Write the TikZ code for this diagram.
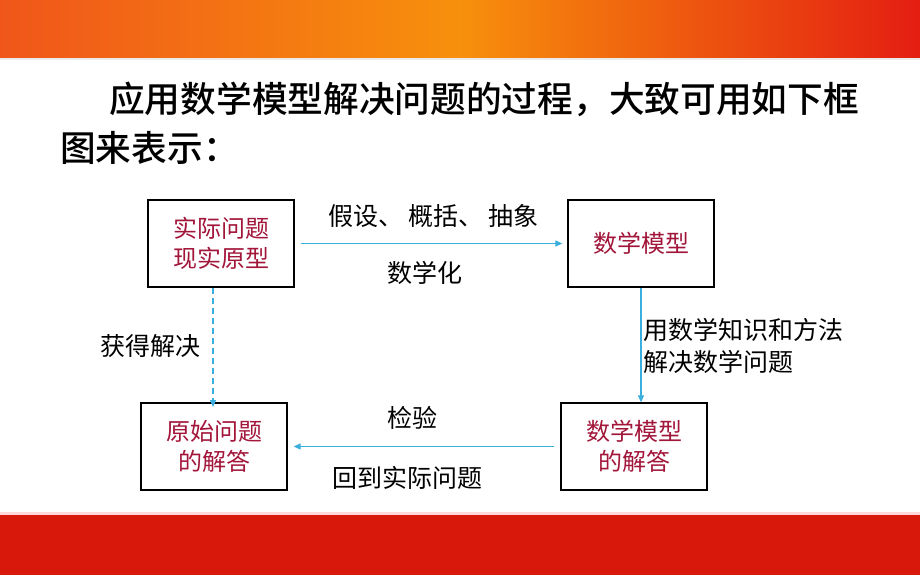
\documentclass[tikz,border=0pt]{standalone}
\usepackage{fontspec}
\newfontfamily\cjk{Noto Sans CJK SC}
\newfontfamily\cjkm{Noto Sans CJK SC Medium}
\usetikzlibrary{arrows.meta}
\definecolor{bandred}{HTML}{D9180C}
\definecolor{bandorange}{HTML}{F7900C}
\definecolor{bandleft}{HTML}{F0561A}
\definecolor{bandright}{HTML}{E41E12}
\definecolor{boxtext}{HTML}{A2163A}
\definecolor{arrowblue}{HTML}{3AAEDC}
\tikzset{
  box/.style={draw=black, line width=1.3pt, minimum width=146pt, minimum height=87pt, inner sep=0pt, align=center, font=\cjk\fontsize{24}{29.5}\selectfont, text=boxtext},
  lbl/.style={font=\cjk\fontsize{25}{32}\selectfont, text=black, inner sep=0pt, align=left},
  flow/.style={draw=arrowblue, line width=1.2pt, -{Triangle[length=7pt,width=6pt]}},
  title/.style={font=\cjkm\fontsize{35.7}{49}\selectfont, inner sep=0pt, anchor=west}
}
\begin{document}
\begin{tikzpicture}[x=1pt,y=-1pt]
\useasboundingbox (0,0) rectangle (920,575);
\fill[white] (0,0) rectangle (920,575);
% top band
\shade[left color=bandleft, right color=bandright, middle color=bandorange] (0,0) rectangle (920,58);
\fill[black!8] (0,58) rectangle (920,60);
% bottom band
\fill[red!15] (0,512) rectangle (920,515);
\fill[bandred] (0,515) rectangle (920,575);
% title
\node[title] (t1) at (109,99) {应用数学模型解决问题的过程，大致可用如下框};
\node[title] (t2) at (60,148) {图来表示：};
% boxes
\node[box] (A) at (221,243.5) {实际问题\\现实原型};
\node[box] (B) at (641,243.5) {数学模型};
\node[box] (C) at (634,446.5) {数学模型\\的解答};
\node[box] (D) at (214,446.5) {原始问题\\的解答};
% connectors
\draw[flow] ([xshift=6pt]A.east) -- ([xshift=-5pt]B.west);
\draw[flow] (B.south) -- (B.south |- C.north);
\draw[flow] ([xshift=-6pt]C.west) -- ([xshift=6pt]D.east);
\draw[flow, dashed, dash pattern=on 6pt off 4pt] (A.south -| 213,0) -- ([yshift=-4pt]213,403);
% labels
\node[lbl] (l1) at (433,216) {假设、\hspace{5pt}概括、\hspace{5pt}抽象};
\node[lbl] (l2) at (425,273) {数学化};
\node[lbl, anchor=west] (l3) at (643,346) {用数学知识和方法\\解决数学问题};
\node[lbl] (l4) at (150,346) {获得解决};
\node[lbl] (l5) at (412,418) {检验};
\node[lbl] (l6) at (407,478) {回到实际问题};
\end{tikzpicture}
\end{document}
